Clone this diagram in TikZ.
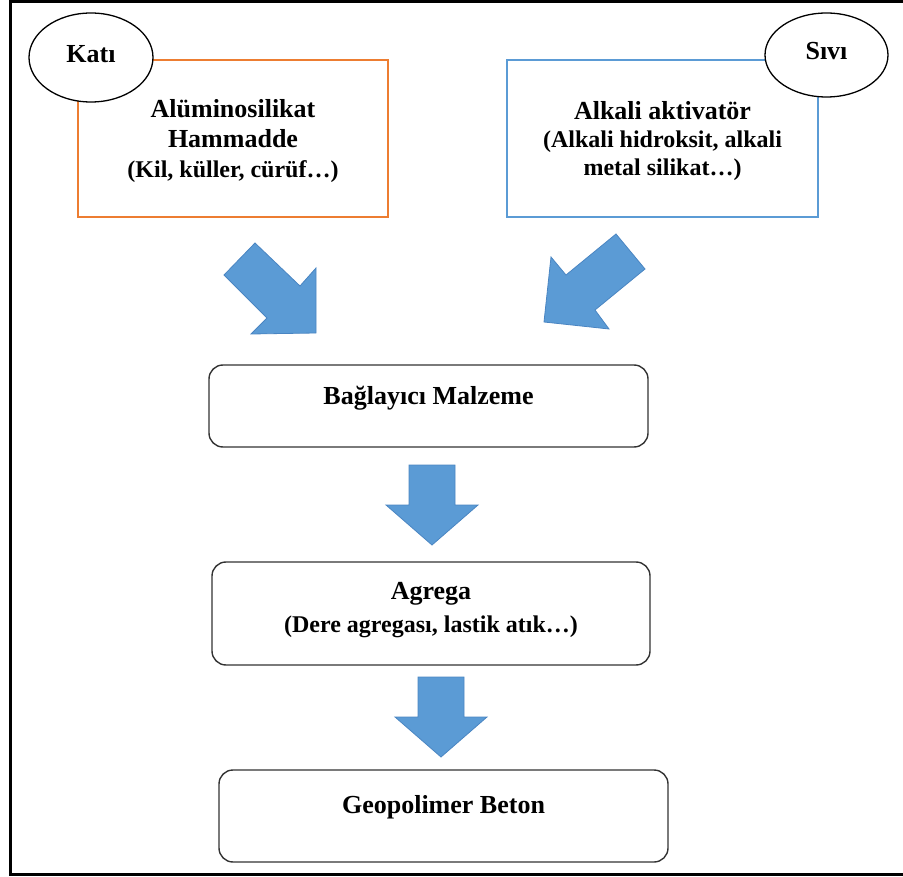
\documentclass[tikz,border=0pt]{standalone}
\usepackage{fontspec}
\setmainfont{Liberation Serif}
\usetikzlibrary{shapes.geometric}
\definecolor{katiorange}{HTML}{ED7D31}
\definecolor{sivblue}{HTML}{5B9BD5}
\definecolor{okfill}{HTML}{5B9BD5}
\definecolor{okline}{HTML}{4A85C2}
\tikzset{
  srcbox/.style={draw,shape=rectangle,line width=1.3pt,minimum width=310pt,minimum height=157pt,inner sep=0pt},
  stepbox/.style={draw=black!80,shape=rectangle,rounded corners=14pt,line width=1.4pt,inner sep=0pt},
  tag/.style={draw,shape=ellipse,fill=white,line width=1.3pt,inner sep=0pt,text depth=8pt,
    font=\fontsize{26}{31}\selectfont\bfseries},
  lbl/.style={anchor=base,inner sep=0pt,align=center,font=\fontsize{26}{31}\selectfont\bfseries},
  blockarrow/.style={fill=okfill,draw=okline,line width=0.8pt,line join=miter}
}
\newcommand{\subline}[1]{{\fontsize{24}{28}\selectfont #1}}
\begin{document}
\begin{tikzpicture}[x=1pt,y=-1pt]
\useasboundingbox (0,0) rectangle (903,877);
\clip (0,0) rectangle (903,877);
\draw[line width=3pt] (10,1.5) rectangle (906,874.5);
% inputs
\node [srcbox,draw=katiorange,name=hammadde] at (233,138.5){};
\node [srcbox,draw=sivblue,name=aktivator,minimum width=311pt] at (662.5,138.5){};
\node [tag,name=kati,minimum width=124pt,minimum height=89pt] at (91,57.5){Katı};
\node [tag,name=sivi,minimum width=123pt,minimum height=84pt] at (826.5,55){Sıvı};
\node [lbl,name=hammaddetxt,font=\fontsize{26}{30}\selectfont\bfseries] at (233,177.5){Alüminosilikat\\Hammadde\\\subline{(Kil, küller, cürüf…)}};
\node [lbl,name=aktivatortxt,font=\fontsize{26}{28}\selectfont\bfseries] at (662.5,176){Alkali aktivatör\\\subline{(Alkali hidroksit, alkali}\\\subline{metal silikat…)}};
% steps
\node [stepbox,name=baglayici,minimum width=439pt,minimum height=82pt] at (428.5,406){};
\node [lbl,name=baglayicitxt] at (428.5,405){Bağlayıcı Malzeme};
\node [stepbox,name=agrega,minimum width=438pt,minimum height=103pt] at (431,613.5){};
\node [lbl,name=agregatxt,font=\fontsize{26}{33}\selectfont\bfseries] at (431,632){Agrega\\\subline{(Dere agregası, lastik atık…)}};
\node [stepbox,name=beton,minimum width=449pt,minimum height=92pt] at (443.5,816){};
\node [lbl,name=betontxt] at (443.5,813){Geopolimer Beton};
% block arrows
\draw[blockarrow] (255,243) -- (300,286) -- (316,268) -- (316,333) -- (251,334) -- (267,318) -- (224,275) -- cycle;
\draw[blockarrow] (616,234) -- (645,269) -- (595,310) -- (609,329) -- (544,322) -- (551,257) -- (566,275) -- cycle;
\foreach \tx/\ty in {432/545,441/757}
  \draw[blockarrow,shift={(\tx,\ty)}] (-23,-80) -- (23,-80) -- (23,-40) -- (46,-40) -- (0,0) -- (-46,-40) -- (-23,-40) -- cycle;
\end{tikzpicture}
\end{document}
